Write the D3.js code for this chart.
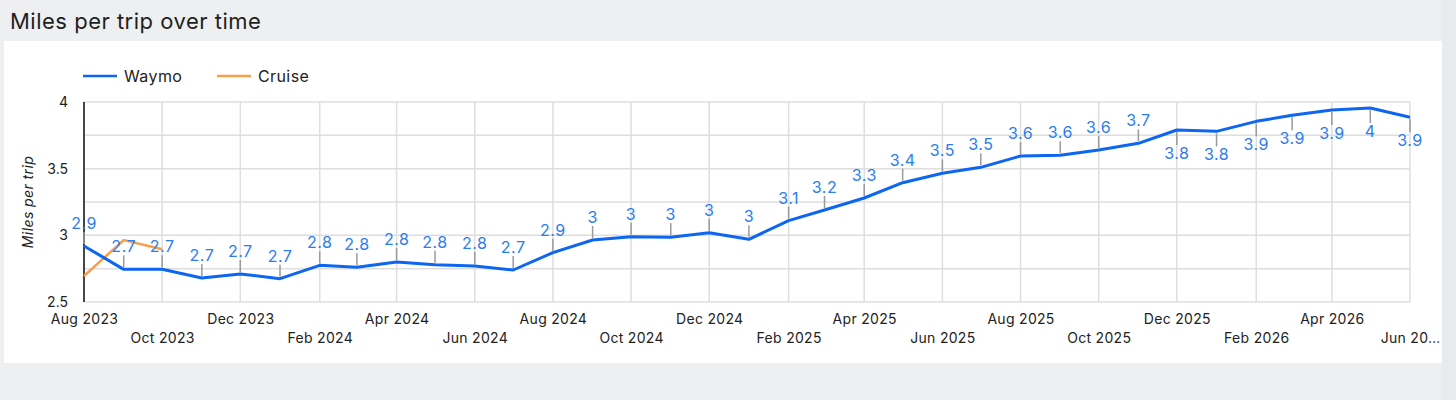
<!DOCTYPE html>
<html>
<head>
<meta charset="utf-8">
<script src="https://cdn.jsdelivr.net/npm/d3@7"></script>
<style>
  body { margin: 0; background: #eeeff1; font-family: Inter, "Noto Sans", sans-serif; }
  svg { display: block; }
</style>
</head>
<body>
<svg></svg>
<script>
// values
var months = ['2023-08', '2023-09', '2023-10', '2023-11', '2023-12',
  '2024-01', '2024-02', '2024-03', '2024-04', '2024-05', '2024-06', '2024-07',
  '2024-08', '2024-09', '2024-10', '2024-11', '2024-12',
  '2025-01', '2025-02', '2025-03', '2025-04', '2025-05', '2025-06', '2025-07',
  '2025-08', '2025-09', '2025-10', '2025-11', '2025-12',
  '2026-01', '2026-02', '2026-03', '2026-04', '2026-05', '2026-06'];

var waymo = [2.92, 2.745, 2.745, 2.68, 2.71, 2.675, 2.775, 2.76, 2.80, 2.78, 2.77, 2.74,
  2.87, 2.965, 2.99, 2.985, 3.02, 2.97, 3.11, 3.19, 3.28, 3.395, 3.465, 3.51,
  3.595, 3.60, 3.64, 3.69, 3.79, 3.78, 3.855, 3.90, 3.94, 3.955, 3.885];

var cruise = [2.695, 2.965, 2.895];

var yTicks = [2.5, 3, 3.5, 4];
var yGrid = [2.5, 2.75, 3, 3.25, 3.5, 3.75, 4];

var W = 1456, H = 400;
var margin = { top: 102, right: 46, bottom: 98, left: 84 };

var width = W - margin.left - margin.right,
  height = H - margin.top - margin.bottom;

var parse = d3.timeParse('%Y-%m');
var dates = months.map(parse);

var svg = d3.select('svg')
  .attr('width', W)
  .attr('height', H);

// page and card
svg.append('rect').attr('x', 1442).attr('y', 0).attr('width', 14).attr('height', H).attr('fill', '#e9eaec');
svg.append('rect').attr('x', 4).attr('y', 41).attr('width', 1438).attr('height', 322).attr('fill', '#fff');

svg.append('text')
  .attr('x', 10)
  .attr('y', 29)
  .style('font-size', '22px')
  .style('letter-spacing', '0.5px')
  .style('fill', '#1f1f1f')
  .text('Miles per trip over time');

var g = svg.append('g')
  .attr('transform', 'translate(' + margin.left + ',' + margin.top + ')');

var x = d3.scaleTime().domain(d3.extent(dates)).range([0, width]);
var y = d3.scaleLinear().domain([2.5, 4]).range([height, 0]);

// grid
g.append('g')
  .selectAll('line')
  .data(yGrid)
  .enter()
  .append('line')
  .attr('x1', 0)
  .attr('x2', width)
  .attr('y1', function(d) { return y(d); })
  .attr('y2', function(d) { return y(d); })
  .attr('stroke', '#dedede')
  .attr('stroke-width', 1.5);

var xTickDates = dates.filter(function(d, i) { return i % 2 === 0; });

g.append('g')
  .selectAll('line')
  .data(xTickDates)
  .enter()
  .append('line')
  .attr('x1', function(d) { return x(d); })
  .attr('x2', function(d) { return x(d); })
  .attr('y1', 0)
  .attr('y2', height)
  .attr('stroke', '#dedede')
  .attr('stroke-width', 1.5);

// y axis
var yAxis = d3.axisLeft(y).tickValues(yTicks).tickSize(0).tickPadding(16)
  .tickFormat(d3.format('~g'));
var ya = g.append('g').call(yAxis);
ya.select('.domain').remove();
ya.selectAll('text')
  .style('font-family', 'Inter, "Noto Sans", sans-serif')
  .style('font-size', '14px')
  .style('fill', '#222');

g.append('line')
  .attr('x1', 0).attr('x2', 0)
  .attr('y1', 0).attr('y2', height)
  .attr('stroke', '#111')
  .attr('stroke-width', 1.5);

// x axis, labels staggered on two rows
var fmt = d3.timeFormat('%b %Y');
var xa = g.append('g')
  .attr('transform', 'translate(0,' + height + ')')
  .call(d3.axisBottom(x).tickValues(xTickDates).tickSize(0).tickPadding(0)
    .tickFormat(function(d, i) {
      var s = fmt(d);
      return i === xTickDates.length - 1 ? s.slice(0, 6) + '\u2026' : s;
    }));
xa.select('.domain').remove();
xa.selectAll('text')
  .attr('dy', null)
  .attr('y', function(d, i) { return i % 2 === 0 ? 22 : 41; })
  .style('font-family', 'Inter, "Noto Sans", sans-serif')
  .style('font-size', '14px')
  .style('letter-spacing', '0.3px')
  .style('fill', '#222');

svg.append('text')
  .attr('transform', 'translate(33,' + (margin.top + height / 2) + ') rotate(-90)')
  .attr('text-anchor', 'middle')
  .style('font-size', '14px')
  .style('font-style', 'italic')
  .style('letter-spacing', '0.4px')
  .style('fill', '#222')
  .text('Miles per trip');

// lines
var line = d3.line()
  .x(function(d, i) { return x(dates[i]); })
  .y(function(d) { return y(d); });

g.append('path')
  .datum(cruise)
  .attr('fill', 'none')
  .attr('stroke', '#f7a04b')
  .attr('stroke-width', 2.5)
  .attr('d', line);

g.append('path')
  .datum(waymo)
  .attr('fill', 'none')
  .attr('stroke', '#0d66f2')
  .attr('stroke-width', 3)
  .attr('stroke-linejoin', 'round')
  .attr('d', line);

// data labels with leader lines
function below(v) { return y(v) - 30 < 0; }

var lab = g.append('g')
  .selectAll('g')
  .data(waymo)
  .enter()
  .append('g')
  .attr('transform', function(d, i) { return 'translate(' + x(dates[i]) + ',' + y(d) + ')'; });

lab.append('line')
  .attr('x1', 0).attr('x2', 0)
  .attr('y1', function(d) { return below(d) ? 2 : -2; })
  .attr('y2', function(d) { return below(d) ? 15 : -14; })
  .attr('stroke', '#9a9a9a')
  .attr('stroke-width', 1.5);

lab.append('text')
  .attr('text-anchor', 'middle')
  .attr('y', function(d) { return below(d) ? 29 : -17; })
  .style('font-size', '16px')
  .style('letter-spacing', '0.5px')
  .style('fill', '#2a7cf0')
  .text(function(d) { return String(Math.round(d * 10) / 10); });

// legend
var legend = [['Waymo', '#0d66f2', 83], ['Cruise', '#f7a04b', 217]];
var lg = svg.append('g')
  .selectAll('g')
  .data(legend)
  .enter()
  .append('g')
  .attr('transform', function(d) { return 'translate(' + d[2] + ',76)'; });
lg.append('line')
  .attr('x1', 0).attr('x2', 34)
  .attr('stroke', function(d) { return d[1]; })
  .attr('stroke-width', 2.5);
lg.append('text')
  .attr('x', 41)
  .attr('y', 5.5)
  .style('font-size', '16px')
  .style('letter-spacing', '0.4px')
  .style('fill', '#222')
  .text(function(d) { return d[0]; });
</script>
</body>
</html>
